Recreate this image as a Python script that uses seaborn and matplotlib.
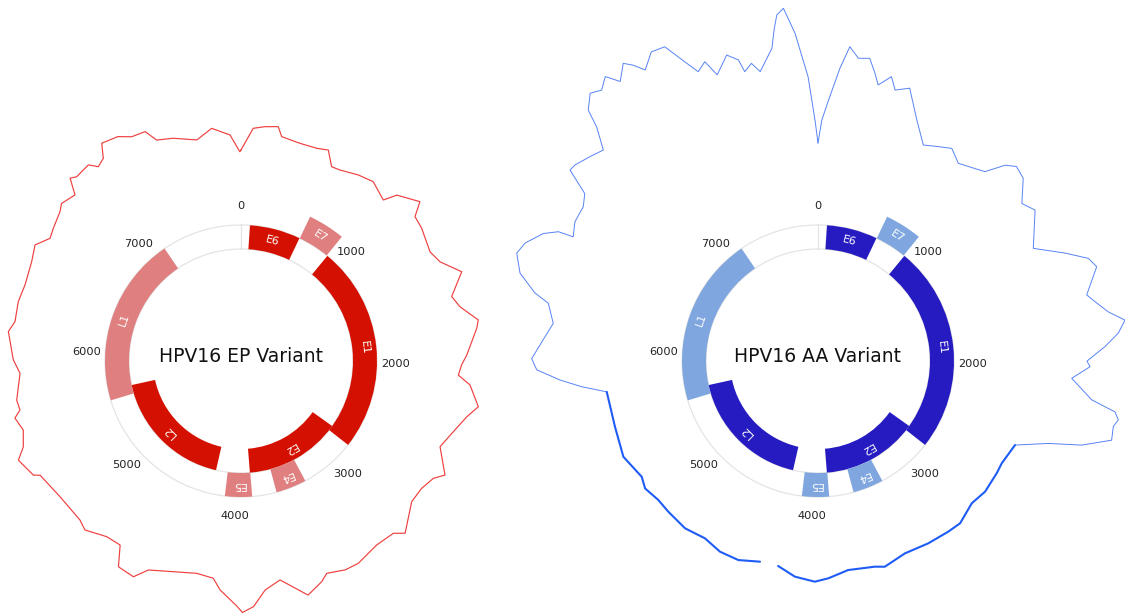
import numpy as np
import matplotlib
matplotlib.use("Agg")
import matplotlib.pyplot as plt
import seaborn as sns

# ---------------------------------------------------------------- data
GENOME_LEN = 7906

tick_positions = [0, 1000, 2000, 3000, 4000, 5000, 6000, 7000]
tick_labels = ["0", "1000", "2000", "3000", "4000", "5000", "6000", "7000"]

gene_names = ["E6", "E7", "E1", "E2", "E4", "E5", "L2", "L1"]
gene_starts = [83, 562, 865, 2756, 3333, 3849, 4236, 5560]
gene_ends = [559, 858, 2813, 3853, 3620, 4103, 5657, 7155]
gene_tracks = [0, 1, 0, -1, 0, 0, -1, 0]          # 0 = main ring, 1 = outer, -1 = inner
gene_light = [False, True, False, False, True, True, False, True]

variant_titles = ["HPV16 EP Variant", "HPV16 AA Variant"]

# read depth along the genome (relative units)
ep_pos = [0, 66, 127, 198, 226, 334, 430, 494, 549, 602,
          707, 799, 911, 949, 1061, 1105, 1179, 1318, 1395, 1493,
          1603, 1671, 1761, 1803, 1944, 1998, 2058, 2108, 2216, 2282,
          2381, 2488, 2618, 2666, 2750, 2844, 2995, 3042, 3154, 3292,
          3371, 3470, 3512, 3602, 3731, 3821, 3889, 3946, 3975, 4067,
          4113, 4212, 4344, 4478, 4535, 4629, 4684, 4774, 4891, 4950,
          5119, 5279, 5297, 5402, 5457, 5543, 5618, 5655, 5712, 5859,
          5936, 6088, 6147, 6257, 6356, 6487, 6575, 6648, 6705, 6797,
          6836, 6918, 6960, 6990, 7074, 7109, 7155, 7190, 7274, 7335,
          7408, 7447, 7535, 7658, 7748, 7845, 7899]
ep_depth = [41, 63, 65.5, 67.3, 58, 55.5, 55.8, 58.3, 44.4, 45.1,
            49.9, 52.8, 44.9, 57.6, 69.6, 56.1, 54.2, 48.3, 52.4, 68.1,
            50.3, 55.6, 70.8, 68, 55.8, 50.7, 47.8, 60.3, 71.7, 62.5,
            53.8, 46.7, 63.7, 55.3, 51, 51.2, 67.9, 60, 58.6, 63.9,
            63.4, 59, 65, 73.5, 52.4, 60.3, 76, 81.5, 75, 60,
            49, 46.9, 51.3, 58.6, 71.1, 69.5, 50.2, 51.1, 60, 56.3,
            56.2, 61.1, 66.9, 73.7, 64, 58.4, 63.2, 56.4, 57.7, 51.3,
            57.7, 64.5, 59.4, 60.5, 59, 61.7, 66.4, 57, 59.9, 64.6,
            68.8, 64.8, 80.2, 76.9, 78.5, 71.1, 75, 88.5, 86, 79.5,
            78.6, 66.5, 62.8, 55.4, 64.5, 56.3, 39.3]

aa_pos = [0, 20, 51, 94, 127, 167, 213, 246, 270, 318,
          349, 408, 490, 571, 643, 707, 777, 909, 960, 1001,
          1061, 1149, 1212, 1370, 1458, 1520, 1566, 1673, 1711, 1766,
          1810, 1860, 1913, 1977, 2003, 2062, 2154, 2190, 2220, 2251,
          2308, 2365, 2409, 2484, 2616, 2681, 2811, 2916, 3048, 3132,
          3268, 3419, 3558, 3613, 3773, 3894, 3971, 4087, 4195, 4250,
          4307, 4432, 4550, 4667, 4798, 4937, 5029, 5130, 5198, 5354,
          5536, 5747, 5793, 5837, 5890, 5940, 6041, 6107, 6195, 6226,
          6290, 6362, 6411, 6476, 6511, 6520, 6584, 6661, 6713, 6755,
          6784, 6850, 6907, 6953, 6973, 7019, 7058, 7098, 7131, 7177,
          7203, 7232, 7284, 7335, 7379, 7412, 7451, 7480, 7541, 7581,
          7594, 7629, 7658, 7722, 7741, 7757, 7783, 7818, 7862, 7891]
aa_depth = [48, 71, 91.2, 123.5, 145.9, 135.4, 137.1, 123.3, 112.5, 123.7,
            111.7, 117.8, 90.4, 70.3, 75.8, 81.2, 72.4, 82.4, 100.9, 107.9,
            104.8, 87.6, 94.4, 73, 99.5, 119.2, 124.2, 106.7, 113.3, 124.5,
            139.7, 131.6, 117.4, 99, 102.1, 84.3, 106.5, 131.3, 136, 132.5,
            134.1, 106.8, 74.6, 44.2, 40.3, 41, 42.1, 39.5, 45.7, 44.7,
            43.1, 41.1, 46.3, 43.4, 41.2, 47.6, 50.7, 46.9, 38.8, np.nan,
            38.9, 44.4, 44.4, 40.3, 43.7, 42.4, 41.7, 44.8, 40.9, 46.9,
            43.4, 43.5, 67.7, 88.7, 111.4, 116.3, 104.1, 97.4, 105.8, 121,
            140.6, 150, 145.8, 132.9, 120, 104.5, 110.1, 110.9, 117.1, 143,
            142.2, 136.1, 131, 152.3, 170.2, 181.6, 176.7, 185.2, 172.4, 185.7,
            178.9, 168.5, 181.2, 179.6, 157.5, 143.1, 150, 133.4, 149.3, 141.4,
            128.4, 135, 125.1, 146.1, 165, 178.5, 184.4, 158.5, 114.5, 70]

# ---------------------------------------------------------------- style
sns.set_style("white")
plt.rcParams["font.family"] = ["DejaVu Sans"]

W_PX, H_PX = 1125, 616
R_AX = 360                 # radial units shown by each polar axes (1 unit = 1 px)
RING_IN, RING_OUT = 112, 136
TRACK_W = RING_OUT - RING_IN
LABEL_R = 155
TRACE_BASE = 170

fig = plt.figure(figsize=(W_PX / 100, H_PX / 100), dpi=100)


def to_theta(p):
    return np.asarray(p, dtype=float) / GENOME_LEN * 2 * np.pi


def polar_axes(cx, cy):
    return fig.add_axes([(cx - R_AX) / W_PX, (H_PX - cy - R_AX) / H_PX,
                         2 * R_AX / W_PX, 2 * R_AX / H_PX], projection="polar")


def nan_runs(pos, val):
    """Split a series into contiguous runs without missing values."""
    runs, cur = [], ([], [])
    for p, v in zip(pos, val):
        if np.isnan(v):
            if cur[0]:
                runs.append(cur)
            cur = ([], [])
        else:
            cur[0].append(p)
            cur[1].append(v)
    if cur[0]:
        runs.append(cur)
    return runs


def draw_trace(ax, pos, depth, spans, color, lw, alpha):
    pos = np.asarray(pos, float)
    depth = np.asarray(depth, float)
    for lo, hi in spans:
        m = (pos >= lo) & (pos <= hi)
        for p, d in nan_runs(pos[m], depth[m]):
            sns.lineplot(x=to_theta(p), y=TRACE_BASE + np.asarray(d), ax=ax,
                         sort=False, estimator=None, color=color,
                         linewidth=lw, alpha=alpha)


def draw_map(ax, title, dark, light):
    ax.set_theta_zero_location("N")
    ax.set_theta_direction(-1)
    ax.axis("off")
    ax.patch.set_alpha(0)

    full = np.linspace(0, 2 * np.pi, 721)
    for rr in (RING_IN, RING_OUT):
        ax.plot(full, np.full_like(full, rr), color="#e4e4e4", lw=0.9, zorder=1)
    ax.plot([0, 0], [RING_IN, RING_OUT], color="#e4e4e4", lw=0.9, zorder=1)

    for name, s, e, tr, lt in zip(gene_names, gene_starts, gene_ends,
                                  gene_tracks, gene_light):
        t0, t1 = to_theta(s), to_theta(e)
        mid = (t0 + t1) / 2
        r0 = RING_IN + tr * TRACK_W
        ax.bar(mid, TRACK_W, width=t1 - t0, bottom=r0,
               color=light if lt else dark, edgecolor="none", zorder=2)
        ax.text(mid, r0 + TRACK_W / 2, name, rotation=-np.degrees(mid),
                rotation_mode="anchor", ha="center", va="center",
                color="white", fontsize=8, zorder=3)

    for p, lab in zip(tick_positions, tick_labels):
        ax.text(to_theta(p), LABEL_R, lab, ha="center", va="center",
                fontsize=8.2, color="#222222")

    ax.text(0.5, 0.5 + 5 / (2 * R_AX), title, transform=ax.transAxes,
            ha="center", va="center", fontsize=13.5, color="#111111")


# EP variant
ax_ep = polar_axes(241, 361)
draw_map(ax_ep, variant_titles[0], "#d41100", "#df7f7f")
ep_closed_pos = ep_pos + [GENOME_LEN]
ep_closed_depth = ep_depth + [ep_depth[0]]
draw_trace(ax_ep, ep_closed_pos, ep_closed_depth, [(0, GENOME_LEN)],
           "#ee3535", 0.85, 0.95)
ax_ep.set_ylim(0, R_AX)

# AA variant
ax_aa = polar_axes(818, 361)
draw_map(ax_aa, variant_titles[1], "#251bc1", "#7fa6df")
aa_closed_pos = aa_pos + [GENOME_LEN]
aa_closed_depth = aa_depth + [aa_depth[0]]
draw_trace(ax_aa, aa_closed_pos, aa_closed_depth, [(0, 2484), (5747, GENOME_LEN)],
           "#3a6df5", 0.7, 0.85)
draw_trace(ax_aa, aa_closed_pos, aa_closed_depth, [(2484, 5747)],
           "#1f5cf5", 1.5, 1.0)
ax_aa.set_ylim(0, R_AX)

fig.savefig("out.png", dpi=100)
